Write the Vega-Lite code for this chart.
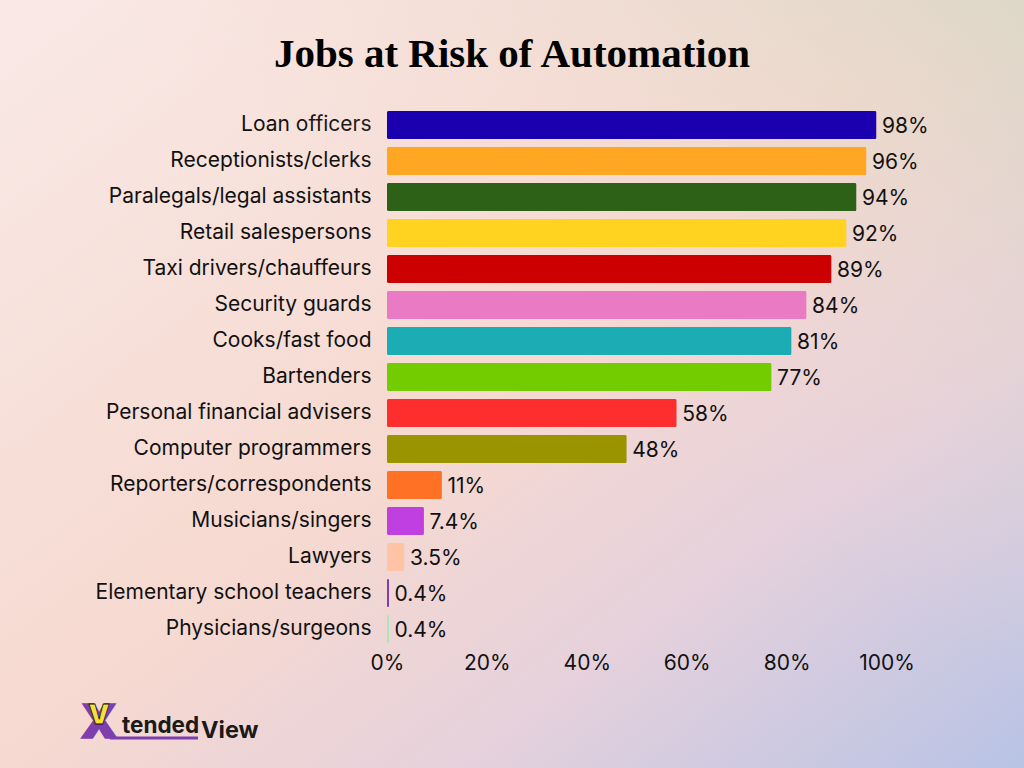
{
  "$schema": "https://vega.github.io/schema/vega-lite/v6.json",
  "autosize": {"type": "fit", "contains": "padding"},
  "padding": 0,
  "width": 1024,
  "height": 768,
  "background": "#f6d9d0",
  "title": {
    "text": "Jobs at Risk of Automation",
    "anchor": "middle",
    "frame": "group",
    "orient": "top",
    "offset": -76,
    "font": "Liberation Serif",
    "fontWeight": "bold",
    "fontSize": 41,
    "color": "#000000"
  },
  "view": {
    "stroke": null,
    "fill": {
      "gradient": "linear",
      "x1": 0, "y1": 0, "x2": 1, "y2": 1,
      "stops": [
        {"offset": 0, "color": "#f9e9e6"},
        {"offset": 0.5, "color": "#f6d9d0"},
        {"offset": 0.72, "color": "#e6d1dc"},
        {"offset": 1, "color": "#b8c3e5"}
      ]
    }
  },
  "datasets": {
    "jobs": [
      {"job": "Loan officers", "risk": 98, "label": "98%"},
      {"job": "Receptionists/clerks", "risk": 96, "label": "96%"},
      {"job": "Paralegals/legal assistants", "risk": 94, "label": "94%"},
      {"job": "Retail salespersons", "risk": 92, "label": "92%"},
      {"job": "Taxi drivers/chauffeurs", "risk": 89, "label": "89%"},
      {"job": "Security guards", "risk": 84, "label": "84%"},
      {"job": "Cooks/fast food", "risk": 81, "label": "81%"},
      {"job": "Bartenders", "risk": 77, "label": "77%"},
      {"job": "Personal financial advisers", "risk": 58, "label": "58%"},
      {"job": "Computer programmers", "risk": 48, "label": "48%"},
      {"job": "Reporters/correspondents", "risk": 11, "label": "11%"},
      {"job": "Musicians/singers", "risk": 7.4, "label": "7.4%"},
      {"job": "Lawyers", "risk": 3.5, "label": "3.5%"},
      {"job": "Elementary school teachers", "risk": 0.4, "label": "0.4%"},
      {"job": "Physicians/surgeons", "risk": 0.4, "label": "0.4%"}
    ]
  },
  "data": {"name": "jobs"},
  "encoding": {
    "y": {
      "field": "job",
      "type": "nominal",
      "sort": null,
      "title": null,
      "scale": {"range": [107, 647], "paddingInner": 0.222, "paddingOuter": 0.111},
      "axis": {
        "orient": "left",
        "offset": -387,
        "domain": false,
        "ticks": false,
        "grid": false,
        "labelPadding": 16,
        "labelFont": "Inter",
        "labelFontSize": 21,
        "labelColor": "#111111",
        "labelLimit": 400
      }
    },
    "x": {
      "field": "risk",
      "type": "quantitative",
      "title": null,
      "scale": {"domain": [0, 100], "range": [387, 886.5], "nice": false},
      "axis": {
        "orient": "bottom",
        "offset": -121,
        "domain": false,
        "ticks": false,
        "grid": false,
        "values": [0, 20, 40, 60, 80, 100],
        "labelExpr": "datum.value + '%'",
        "labelPadding": 5,
        "labelFont": "Inter",
        "labelFontSize": 21,
        "labelColor": "#111111",
        "labelFlush": false,
        "labelOverlap": false
      }
    }
  },
  "layer": [
    {
      "data": {"values": [{"panel": "tint"}]},
      "mark": {
        "type": "rect",
        "fill": {
          "gradient": "linear",
          "x1": 1, "y1": 0, "x2": 0.55, "y2": 0.45,
          "stops": [
            {"offset": 0, "color": "rgba(208,215,195,0.65)"},
            {"offset": 1, "color": "rgba(246,217,208,0)"}
          ]
        }
      },
      "encoding": {"x": null, "y": null}
    },
    {
      "mark": {"type": "bar", "cornerRadius": 1.5},
      "encoding": {
        "color": {
          "field": "job",
          "type": "nominal",
          "sort": null,
          "legend": null,
          "scale": {
            "range": ["#1a00ae", "#ffa723", "#2d6118", "#ffd31f", "#cc0000", "#ea7ac4", "#1bacb4", "#72cc00", "#ff2e2e", "#999400", "#ff7226", "#bf3fe0", "#ffc4a5", "#7b3fb0", "#a8e6b8"]
          }
        }
      }
    },
    {
      "mark": {"type": "text", "align": "left", "baseline": "middle", "dx": 5.5, "dy": 2, "font": "Inter", "fontSize": 21, "color": "#111111"},
      "encoding": {"text": {"field": "label"}}
    },
    {
      "transform": [{"filter": "datum.job == 'Physicians/surgeons'"}],
      "layer": [
        {
          "mark": {"type": "rule", "color": "#7d3fae", "strokeWidth": 3, "xOffset": -279, "x2Offset": -191, "yOffset": 109},
          "encoding": {"x2": {"field": "risk"}}
        },
        {
          "mark": {"type": "text", "text": "X", "font": "Inter", "fontWeight": 900, "fontSize": 47, "color": "#7d3fae", "stroke": "#7d3fae", "strokeWidth": 1.5, "align": "center", "baseline": "middle", "dx": -290, "dy": 95}
        },
        {
          "mark": {"type": "text", "text": "V", "font": "Inter", "fontWeight": 900, "fontSize": 27, "color": "#f5e03a", "stroke": "#111111", "strokeWidth": 0.8, "align": "center", "baseline": "middle", "dx": -290, "dy": 87}
        },
        {
          "mark": {"type": "text", "text": "tended", "font": "Inter", "fontWeight": 700, "fontSize": 22.5, "color": "#1a1a1a", "align": "left", "baseline": "middle", "dx": -267, "dy": 97}
        },
        {
          "mark": {"type": "text", "text": "View", "font": "Inter", "fontWeight": 700, "fontSize": 23.5, "color": "#1a1a1a", "align": "left", "baseline": "middle", "dx": -188, "dy": 102}
        }
      ]
    }
  ]
}
